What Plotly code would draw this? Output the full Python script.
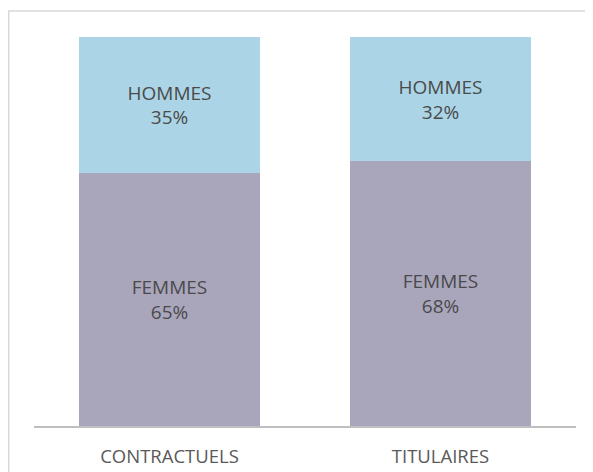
import plotly.graph_objects as go

categories = ["CONTRACTUELS", "TITULAIRES"]
femmes = [65, 68]
hommes = [35, 32]
series_names = ["FEMMES", "HOMMES"]

fig = go.Figure()
fig.add_trace(go.Bar(
    x=categories, y=femmes, name=series_names[0],
    marker=dict(color="#A9A6BC", line=dict(width=0)),
    text=[f"{series_names[0]}<br>{v}%" for v in femmes],
    textposition="inside", insidetextanchor="middle",
    textfont=dict(family="Open Sans", size=19, color="#4a4a4a"),
    constraintext="none", width=0.667, hoverinfo="skip",
))
fig.add_trace(go.Bar(
    x=categories, y=hommes, name=series_names[1],
    marker=dict(color="#ABD5E6", line=dict(width=0)),
    text=[f"{series_names[1]}<br>{v}%" for v in hommes],
    textposition="inside", insidetextanchor="middle",
    textfont=dict(family="Open Sans", size=19, color="#4a4a4a"),
    constraintext="none", width=0.667, hoverinfo="skip",
))

fig.update_layout(
    barmode="stack",
    width=593, height=472,
    margin=dict(l=26, r=25, t=29, b=54),
    paper_bgcolor="white", plot_bgcolor="white",
    showlegend=False,
    xaxis=dict(
        range=[-0.5, 1.5], showgrid=False, zeroline=False,
        showline=True, linecolor="#BFBFBF", linewidth=2,
        ticks="outside", ticklen=13, tickcolor="rgba(0,0,0,0)",
        tickfont=dict(family="Open Sans", size=18.5, color="#595959"),
    ),
    yaxis=dict(range=[0, 100], visible=False, showgrid=False, zeroline=False),
    shapes=[dict(
        type="rect", xref="paper", yref="paper",
        x0=-0.0466, x1=1.3, y0=-0.3, y1=1.0668,
        line=dict(color="#D9D9D9", width=1.5), fillcolor="rgba(0,0,0,0)",
        layer="below",
    )],
)

fig.write_html("out.html")
